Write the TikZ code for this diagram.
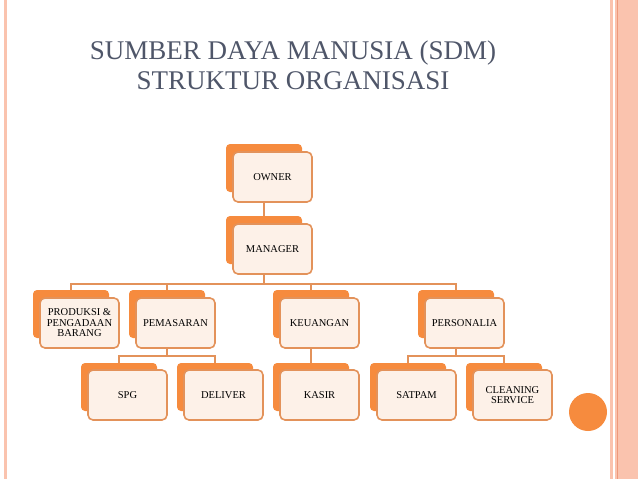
\documentclass[tikz,border=0pt]{standalone}
\usepackage{fontspec}
\setmainfont{Liberation Serif}
\definecolor{boxorange}{HTML}{F68B3E}
\definecolor{boxfill}{HTML}{FDF1E8}
\definecolor{boxline}{HTML}{E3925A}
\definecolor{titlegray}{HTML}{4F5669}
\definecolor{stripe}{HTML}{FAC3AE}
\definecolor{stripedark}{HTML}{EE9A7C}

\begin{document}
\begin{tikzpicture}[x=1pt,y=-1pt,
    backbox/.style={rectangle,rounded corners=4pt,fill=boxorange,minimum width=76pt,minimum height=48pt,inner sep=0pt},
    frontbox/.style={rectangle,rounded corners=5pt,draw=boxline,line width=1.6pt,fill=boxfill,minimum width=79pt,minimum height=50pt,inner sep=1pt,align=center,font=\fontsize{10.5}{10.5}\selectfont},
    link/.style={draw=boxline,line width=1.6pt}]
  \path[use as bounding box] (0,0) rectangle (638,479);
  % slide frame
  \fill[stripe] (3.5,0) rectangle (7,479);
  \fill[stripe] (610,0) rectangle (612.5,479);
  \fill[stripe] (615,0) rectangle (638,479);
  \draw[stripedark,line width=0.8pt] (617,0) -- (617,479);
  \fill[boxorange] (588,412) circle (19);

  \node[text=titlegray,font=\fontsize{27}{30}\selectfont,align=center] (title) at (293,65)
    {SUMBER DAYA MANUSIA (SDM)\\STRUKTUR ORGANISASI};

  % level 1 and 2
  \node[backbox] (owner) at (264,168) {};
  \node[frontbox] (owner-f) at (272.5,177) {OWNER};
  \node[backbox] (manager) at (264,240) {};
  \node[frontbox] (manager-f) at (272.5,249) {MANAGER};

  % level 3
  \node[backbox] (produksi) at (71,314) {};
  \node[frontbox] (produksi-f) at (79.5,323) {PRODUKSI \&\\PENGADAAN\\BARANG};
  \node[backbox] (pemasaran) at (167,314) {};
  \node[frontbox] (pemasaran-f) at (175.5,323) {PEMASARAN};
  \node[backbox] (keuangan) at (311,314) {};
  \node[frontbox] (keuangan-f) at (319.5,323) {KEUANGAN};
  \node[backbox] (personalia) at (456,314) {};
  \node[frontbox] (personalia-f) at (464.5,323) {PERSONALIA};

  % level 4
  \node[backbox] (spg) at (119,387) {};
  \node[frontbox] (spg-f) at (127.5,395) {SPG};
  \node[backbox] (deliver) at (215,387) {};
  \node[frontbox] (deliver-f) at (223.5,395) {DELIVER};
  \node[backbox] (kasir) at (311,387) {};
  \node[frontbox] (kasir-f) at (319.5,395) {KASIR};
  \node[backbox] (satpam) at (408,387) {};
  \node[frontbox] (satpam-f) at (416.5,395) {SATPAM};
  \node[backbox] (cleaning) at (504,387) {};
  \node[frontbox] (cleaning-f) at (512.5,395) {CLEANING\\SERVICE};

  % connectors
  \draw[link] (owner-f.south -| owner) -- (manager.north);
  \foreach \n in {produksi,pemasaran,keuangan,personalia}
    \draw[link] (manager-f.south -| manager) -- ++(0,9) -| (\n.north);
  \foreach \n in {spg,deliver}
    \draw[link] (pemasaran-f.south -| pemasaran) -- ++(0,7) -| (\n.north);
  \foreach \n in {satpam,cleaning}
    \draw[link] (personalia-f.south -| personalia) -- ++(0,7) -| (\n.north);
  \draw[link] (keuangan-f.south -| keuangan) -- (kasir.north);
\end{tikzpicture}
\end{document}
